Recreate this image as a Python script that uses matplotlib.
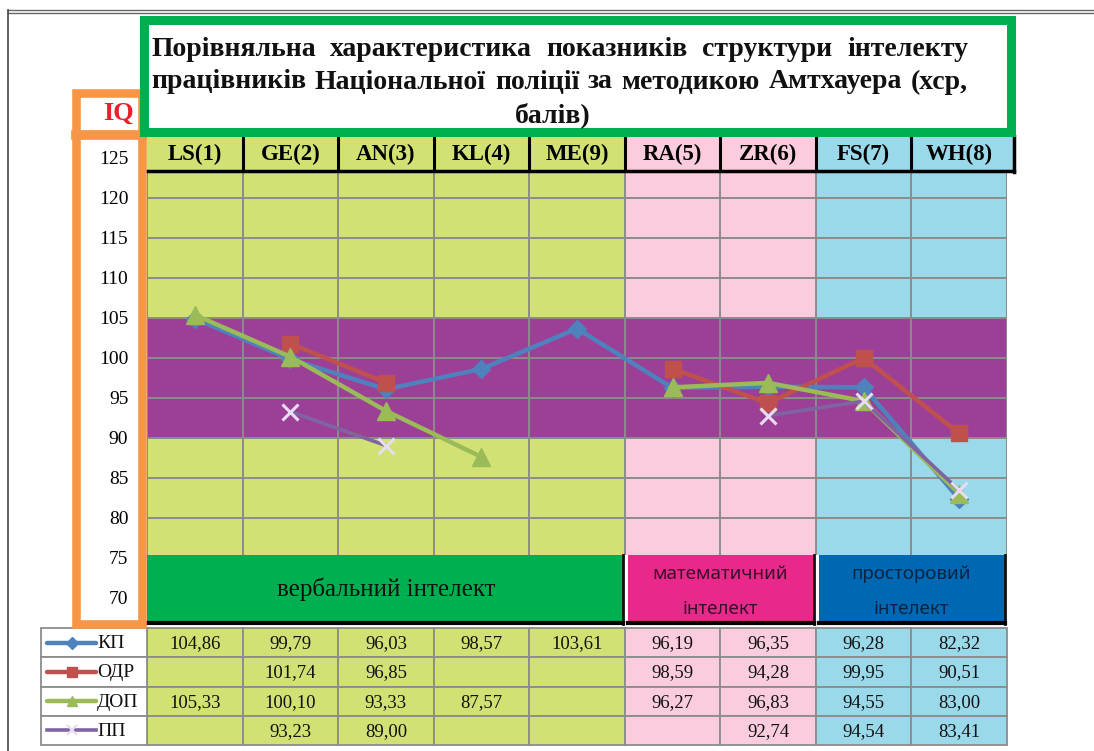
import matplotlib
matplotlib.use('Agg')
import matplotlib.pyplot as plt
from matplotlib.patches import Rectangle
from matplotlib.transforms import blended_transform_factory
import numpy as np

# ---------------- data ----------------
categories = ['LS(1)', 'GE(2)', 'AN(3)', 'KL(4)', 'ME(9)', 'RA(5)', 'ZR(6)', 'FS(7)', 'WH(8)']
series_names = ['КП', 'ОДР', 'ДОП', 'ПП']
kp = [104.86, 99.79, 96.03, 98.57, 103.61, 96.19, 96.35, 96.28, 82.32]
odr = [None, 101.74, 96.85, None, None, 98.59, 94.28, 99.95, 90.51]
dop = [105.33, 100.10, 93.33, 87.57, None, 96.27, 96.83, 94.55, 83.00]
pp = [None, 93.23, 89.00, None, None, None, 92.74, 94.54, 83.41]
y_ticks = [70, 75, 80, 85, 90, 95, 100, 105, 110, 115, 120, 125]
norm_band = (90, 105)
groups = [('вербальний інтелект', 0, 4), ('математичний\nінтелект', 5, 6), ('просторовий\nінтелект', 7, 8)]
title = ['Порівняльна характеристика показників структури інтелекту',
         'працівників Національної поліції за методикою Амтхауера (хср,',
         'балів)']
y_label = 'IQ'

# ---------------- styles ----------------
col_colors = ['#D2E173'] * 5 + ['#FBCCDD'] * 2 + ['#99D9EA'] * 2
group_colors = ['#00B050', '#E9298A', '#0068B3']
group_text_colors = ['#101010', '#3a0d2c', '#0c2442']
series_colors = ['#4F81BD', '#C0504D', '#9BBB59', '#8064A2']
series_markers = ['D', 's', '^', 'x']
series_msize = [9, 12, 13, 11]
grid_col = '#8C8C8C'
serif = 'Liberation Serif'

W, H = 1094, 751
fig = plt.figure(figsize=(W / 100, H / 100), dpi=100)
fig.patch.set_facecolor('white')

px_left, px_right, px_top, px_bot = 147, 1007, 136, 625
def v_of(py):
    return 105 - (py - 317.5) / 8.0

ax = fig.add_axes([px_left / W, 1 - px_bot / H, (px_right - px_left) / W, (px_bot - px_top) / H])
ax.set_xlim(-0.5, 8.5)
ax.set_ylim(v_of(px_bot), v_of(px_top))
for s in ax.spines.values():
    s.set_visible(False)
ax.set_facecolor('none')
ax.set_xticks([])
ax.set_yticks(y_ticks)
ax.set_yticklabels([str(t) for t in y_ticks], fontfamily=serif, fontsize=14)
ax.tick_params(axis='y', length=0, pad=13.5)

plot_top_v = v_of(170)
plot_bot_v = v_of(555)
n = len(categories)
x = np.arange(n)

for i in range(n):
    ax.add_patch(Rectangle((i - 0.5, plot_bot_v), 1, plot_top_v - plot_bot_v,
                           facecolor=col_colors[i], edgecolor='none', zorder=0))
ax.axhspan(norm_band[0], norm_band[1], facecolor='#9C4097', edgecolor='none', zorder=0.5)
ax.hlines([t for t in y_ticks if plot_bot_v < t < plot_top_v], -0.5, 8.5, colors=grid_col, lw=1.4, zorder=1)
ax.vlines(np.arange(n + 1) - 0.5, plot_bot_v, plot_top_v, colors=grid_col, lw=1.4, zorder=1)

all_series = [kp, odr, dop, pp]
for k, ser in enumerate(all_series):
    yv = np.array([np.nan if v is None else v for v in ser], dtype=float)
    if series_markers[k] == 'x':
        ax.plot(x, yv, color=series_colors[k], lw=2.6, marker='x', ms=series_msize[k],
                mew=2.2, mec='#E6DDF0', zorder=3 + k)
    else:
        ax.plot(x, yv, color=series_colors[k], lw=3.2, marker=series_markers[k],
                ms=series_msize[k], mec=series_colors[k], zorder=3 + k)

# ---------------- overlay (pixel coords) ----------------
ov = fig.add_axes([0, 0, 1, 1], zorder=5)
ov.set_xlim(0, W)
ov.set_ylim(H, 0)
ov.axis('off')
ov.patch.set_visible(False)
bt = blended_transform_factory(ax.transData, ov.transData)

ov.plot([8, W], [9.5, 9.5], color='#666666', lw=1.0)
ov.plot([8, W], [12.5, 12.5], color='#666666', lw=1.0)
ov.plot([8, 8], [9.5, H], color='#444444', lw=1.2)

# header row
for i, c in enumerate(categories):
    ov.add_patch(Rectangle((i - 0.5, 136), 1 if i < n - 1 else 1.07, 34, transform=bt,
                           facecolor=col_colors[i], edgecolor='none', zorder=1))
    ov.text(i, 154, c, transform=bt, ha='center', va='center', fontfamily=serif,
            fontweight='bold', fontsize=16.5, zorder=3)
for i in range(1, n):
    ov.plot([i - 0.5, i - 0.5], [136, 170], transform=bt, color='black', lw=2.2, zorder=2)
ov.plot([8.57, 8.57], [136, 172], transform=bt, color='black', lw=2.5, zorder=2)
ov.plot([-0.5, 8.57], [170.5, 170.5], transform=bt, color='black', lw=2.5, zorder=2)

# group bands
for g, (label, a, b) in enumerate(groups):
    x0 = a - 0.5 + (0.03 if g > 0 else 0)
    x1 = b + 0.5 - 0.02
    ov.add_patch(Rectangle((x0, 555), x1 - x0, 67, transform=bt,
                           facecolor=group_colors[g], edgecolor='none', zorder=1))
    ov.plot([x1, x1], [555, 624], transform=bt, color='#111111', lw=2.0, zorder=2)
    ov.plot([x0, x1], [622.5, 622.5], transform=bt, color='black', lw=3.0, zorder=2)
    xc = (a + b) / 2
    if g == 0:
        ov.text(xc, 589, label, transform=bt, ha='center', va='center', fontfamily=serif,
                fontsize=18, color=group_text_colors[g], zorder=3)
    else:
        l1, l2 = label.split('\n')
        ov.text(xc, 574, l1, transform=bt, ha='center', va='center', fontfamily='Noto Sans',
                fontsize=13.5, color=group_text_colors[g], zorder=3)
        ov.text(xc, 609, l2, transform=bt, ha='center', va='center', fontfamily='Noto Sans',
                fontsize=13.5, color=group_text_colors[g], zorder=3)

# data table
row_edges = [628, 657.3, 686.6, 715.9, 745]
for r, ser in enumerate(all_series):
    y0, y1 = row_edges[r], row_edges[r + 1]
    yc = (y0 + y1) / 2
    for i in range(n):
        ov.add_patch(Rectangle((i - 0.5, y0), 1, y1 - y0, transform=bt,
                               facecolor=col_colors[i], edgecolor=grid_col, lw=1.3, zorder=1))
        if ser[i] is not None:
            ov.text(i, yc + 1, f"{ser[i]:.2f}".replace('.', ','), transform=bt, ha='center',
                    va='center', fontfamily=serif, fontsize=13.5, color='#111111', zorder=3)
    ov.add_patch(Rectangle((41, y0), 106, y1 - y0, facecolor='white', edgecolor=grid_col,
                           lw=1.3, zorder=1))
    if series_markers[r] == 'x':
        ov.plot([47, 96], [yc, yc], color=series_colors[r], lw=2.6, zorder=3)
        ov.plot([71.5], [yc], marker='x', ms=7, mew=1.5, color='#E6DDF0', zorder=4)
    else:
        ov.plot([47, 96], [yc, yc], color=series_colors[r], lw=3.2, zorder=3,
                solid_capstyle='round')
        ov.plot([71.5], [yc], marker=series_markers[r], ms=6.5, color=series_colors[r], zorder=4)
    ov.text(97, yc + 1, series_names[r], ha='left', va='center', fontfamily=serif,
            fontsize=14, color='#111111', zorder=3)

# orange IQ box
orange = '#F79646'
ov.add_patch(Rectangle((76, 92.5), 66, 531.5, facecolor='none', edgecolor=orange, lw=6.2, zorder=6))
ov.plot([76, 142], [135, 135], color=orange, lw=7, zorder=6)
ov.text(119, 113, y_label, ha='center', va='center', fontfamily=serif, fontweight='bold',
        fontsize=19, color='#E8202A', zorder=7)

# title box
green = '#00B050'
ov.add_patch(Rectangle((143.5, 20), 867, 111.5, facecolor='white', edgecolor=green, lw=6.5, zorder=8))

renderer = fig.canvas.get_renderer()
title_fs = 20
just_left, just_right = 151, 968
for j, (line, yy) in enumerate(zip(title, [49, 82, 115])):
    if j < 2:
        words = line.split(' ')
        objs = [ov.text(0, yy, w, ha='left', va='center', fontfamily=serif, fontweight='bold',
                        fontsize=title_fs, color='#111111', zorder=9) for w in words]
        inv = ov.transData.inverted()
        widths = []
        for o in objs:
            bb = o.get_window_extent(renderer)
            p0 = inv.transform((bb.x0, bb.y0))
            p1 = inv.transform((bb.x1, bb.y0))
            widths.append(p1[0] - p0[0])
        gap = (just_right - just_left - sum(widths)) / (len(words) - 1)
        xpos = just_left
        for o, wd in zip(objs, widths):
            o.set_x(xpos)
            xpos += wd + gap
    else:
        ov.text(553, yy, line, ha='center', va='center', fontfamily=serif,
                fontweight='bold', fontsize=title_fs, color='#111111', zorder=9)

fig.savefig('out.png', dpi=100)
